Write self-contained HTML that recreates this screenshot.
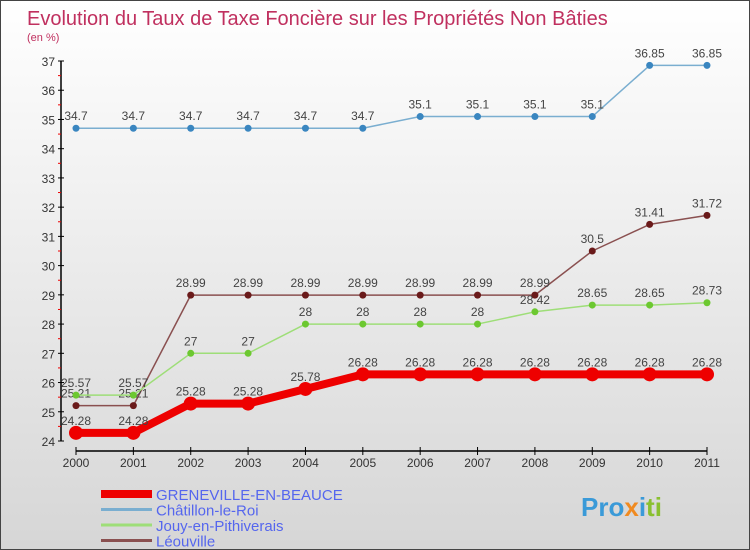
<!DOCTYPE html>
<html><head><meta charset="utf-8"><style>
body{margin:0;width:750px;height:550px;overflow:hidden;font-family:"Liberation Sans",sans-serif}
#wrap{position:absolute;left:0;top:0;width:748px;height:548px;border:1px solid #444;background:linear-gradient(#ffffff,#d6d6d6)}
</style></head><body>
<div id="wrap">
<svg id="chart" width="748" height="548" style="position:absolute;left:0;top:0"></svg>
</div>
<script>
const years=["2000","2001","2002","2003","2004","2005","2006","2007","2008","2009","2010","2011"];
const greneville=[24.28,24.28,25.28,25.28,25.78,26.28,26.28,26.28,26.28,26.28,26.28,26.28];
const chatillon=[34.7,34.7,34.7,34.7,34.7,34.7,35.1,35.1,35.1,35.1,36.85,36.85];
const jouy=[25.57,25.57,27,27,28,28,28,28,28.42,28.65,28.65,28.73];
const leouville=[25.21,25.21,28.99,28.99,28.99,28.99,28.99,28.99,28.99,30.5,31.41,31.72];
const yTicks=[24,25,26,27,28,29,30,31,32,33,34,35,36,37];
const seriesNames=["GRENEVILLE-EN-BEAUCE","Châtillon-le-Roi","Jouy-en-Pithiverais","Léouville"];

const NS="http://www.w3.org/2000/svg";
const svg=document.getElementById('chart');
function X(i){return 75+i*(706-75)/(years.length-1);}
function Y(v){return 440-(v-24)*(380/13);}
function mk(t,a,p){const e=document.createElementNS(NS,t);for(const k in a)e.setAttribute(k,a[k]);(p||svg).appendChild(e);return e;}
function fmt(v){return String(v);}

let t=mk('text',{x:26,y:24,'font-size':20,fill:'#c0305f'});t.textContent="Evolution du Taux de Taxe Foncière sur les Propriétés Non Bâties";

t=mk('text',{x:26,y:40,'font-size':11,fill:'#c0305f'});t.textContent="(en %)";


let ya=mk('line',{x1:60,y1:Y(37),x2:60,y2:Y(24),stroke:'#000','stroke-width':1.5});

yTicks.forEach(v=>{
 mk('line',{x1:57,y1:Y(v),x2:63,y2:Y(v),stroke:'#000'});
 if(v<37)mk('line',{x1:57,y1:Y(v+0.5),x2:60,y2:Y(v+0.5),stroke:'#e00'});
 const l=mk('text',{x:54,y:Y(v)+5,'font-size':12,fill:'#333','text-anchor':'end'});l.textContent=v;
 
});
let xa=mk('line',{x1:X(0),y1:450,x2:X(11),y2:450,stroke:'#000','stroke-width':1.5});

years.forEach((y,i)=>{
 mk('line',{x1:X(i),y1:446,x2:X(i),y2:454,stroke:'#000'});
 const l=mk('text',{x:X(i),y:466,'font-size':12,fill:'#333','text-anchor':'middle'});l.textContent=y;
 
});

function series(data,color,w,r,dot,name){
 const g=mk('g',{});
 
 mk('polyline',{points:data.map((v,i)=>X(i)+','+Y(v)).join(' '),fill:'none',stroke:color,'stroke-width':w,'stroke-linejoin':'round'},g);
 data.forEach((v,i)=>{
  const c=mk('circle',{cx:X(i),cy:Y(v),r:r,fill:dot},g);
  
  const l=mk('text',{x:X(i),y:Y(v)-8,'font-size':12,fill:'#444','text-anchor':'middle'},g);l.textContent=fmt(v);
  
 });
}
series(chatillon,'#7aaed0',1.5,3.5,'#3a86c0','chatillon');
series(leouville,'#8a5050',1.5,3.5,'#6a1a1a','leouville');
series(jouy,'#9ede78',1.5,3.5,'#6cc830','jouy');
series(greneville,'#ee0000',8,7,'#ee0000','greneville');

const lc=['#ee0000','#7aaed0','#9ede78','#8a5050'],lw=[8,3,3,3];
seriesNames.forEach((n,i)=>{
 const y=493+i*15.5;
 const g=mk('g',{});
 
 mk('line',{x1:100,y1:y,x2:151,y2:y,stroke:lc[i],'stroke-width':lw[i]},g);
 const l=mk('text',{x:155,y:y+6,'font-size':15,fill:'#5566ee'},g);l.textContent=n;
});
const lg=mk('text',{x:580,y:515,'font-size':26,'font-weight':'bold',fill:'#3a9ad8'});

lg.innerHTML='<tspan fill="#3a9ad8">Pro</tspan><tspan fill="#f08a20">x</tspan><tspan fill="#3a9ad8">i</tspan><tspan fill="#8ac030">ti</tspan>';
</script>
</body></html>
